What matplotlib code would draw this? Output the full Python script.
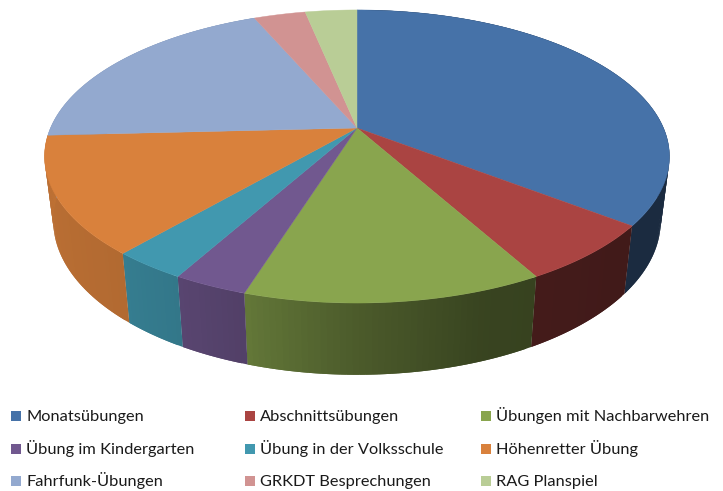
import numpy as np
import matplotlib
matplotlib.use('Agg')
import matplotlib.pyplot as plt
from matplotlib.collections import PolyCollection
from matplotlib.patches import Polygon, Rectangle

labels = ['Monatsübungen', 'Abschnittsübungen', 'Übungen mit Nachbarwehren',
          'Übung im Kindergarten', 'Übung in der Volksschule', 'Höhenretter Übung',
          'Fahrfunk-Übungen', 'GRKDT Besprechungen', 'RAG Planspiel']
values = [11, 2, 4, 1, 1, 4, 6, 1, 1]
colors = ['#4672A8', '#AA4442', '#89A54E', '#71588F', '#4198AF',
          '#D9813C', '#93A9CF', '#D19392', '#B9CD96']

# perspective of the pie disc, in pixels
CX, CY = 357, 128
RX, RY, TILT = 306.5, 141, 0.1945
# wall brightness against clockwise angle from the top
SHADE_ANGLES = [90, 130, 160, 180, 197, 208, 220, 270]
SHADE_VALUES = [0.38, 0.38, 0.41, 0.55, 0.72, 0.78, 0.82, 0.88]


def top_rim(deg):
    t = np.radians(deg)
    x, y = np.sin(t), np.cos(t)
    d = 1 + TILT * y
    return RX * x / d, RY * y / d


def bottom_rim(deg):
    x, y = top_rim(deg)
    return 0.972 * x, 1.05 * y - 63


def to_px(xy):
    return CX + xy[0], CY - xy[1]


fig = plt.figure(figsize=(7.23, 4.91), dpi=100, facecolor='white')
ax = fig.add_axes([0, 0, 1, 1])
ax.set_xlim(0, 723)
ax.set_ylim(491, 0)
ax.axis('off')

edges = np.cumsum([0] + values) / sum(values) * 360

# walls first, the top covers whatever is behind it
for i, c in enumerate(colors):
    a = np.linspace(edges[i], edges[i + 1], int(edges[i + 1] - edges[i]) + 2)
    a_mid = (a[:-1] + a[1:]) / 2
    if a_mid.max() < 85 or a_mid.min() > 290:
        continue
    base = np.array(matplotlib.colors.to_rgb(c))
    shade = np.interp(a_mid, SHADE_ANGLES, SHADE_VALUES)
    tx, ty = to_px(top_rim(a))
    bx, by = to_px(bottom_rim(a))
    # the next quad starts a bit early so no white seam shows
    for j in range(len(a) - 1):
        k = min(j + 2, len(a) - 1)
        quad = [(tx[j], ty[j]), (tx[k], ty[k]), (bx[k], by[k]), (bx[j], by[j])]
        ax.add_collection(PolyCollection([quad], facecolors=[base * shade[j]], edgecolors='none'))

for i, c in enumerate(colors):
    a = np.linspace(edges[i], edges[i + 1], int(edges[i + 1] - edges[i]) * 2 + 2)
    rx, ry = to_px(top_rim(a))
    pts = [(CX, CY)] + list(zip(rx, ry))
    ax.add_patch(Polygon(pts, closed=True, facecolor=c, edgecolor=c, linewidth=0.3))

# legend
col_x = [11, 245, 481]
row_y = [416, 449, 481]
for i, (lab, c) in enumerate(zip(labels, colors)):
    x = col_x[i % 3]
    y = row_y[i // 3]
    ax.add_patch(Rectangle((x, y - 5), 10, 10, facecolor=c, edgecolor='none'))
    ax.text(x + 15, y + 5, lab, fontsize=11.8, family='Lato', color='#1a1a1a', va='baseline', ha='left')

fig.savefig('out.png', dpi=100)
